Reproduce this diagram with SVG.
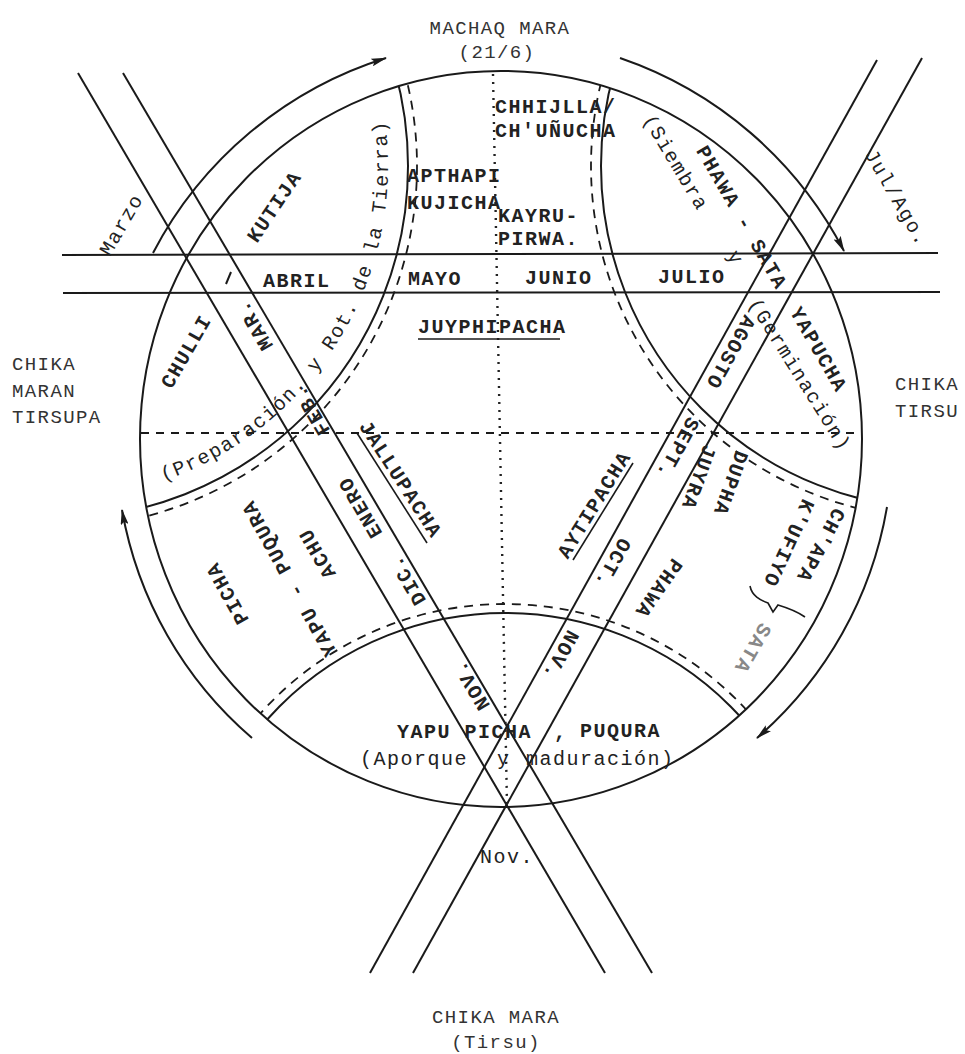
<svg xmlns="http://www.w3.org/2000/svg" width="965" height="1054" viewBox="0 0 965 1054">
<style>
.ln{stroke:#1a1a1a;stroke-width:2;fill:none}
.dsh{stroke:#1a1a1a;stroke-width:1.8;fill:none;stroke-dasharray:9 7}
.dot{stroke:#222;stroke-width:2.4;fill:none;stroke-dasharray:2 6}
.t{font-family:"Liberation Mono",monospace;font-size:20px;letter-spacing:1.5px;fill:#222;font-weight:bold}
.n{font-family:"Liberation Mono",monospace;font-size:20px;letter-spacing:1.5px;fill:#222}
.h{font-family:"Liberation Mono",monospace;font-size:19px;letter-spacing:1.4px;fill:#333}
.c{text-anchor:middle;dominant-baseline:central}
.faint{fill:#888}
</style>
<defs>
<clipPath id="inside"><ellipse cx="501" cy="439" rx="361" ry="368"/></clipPath>
<marker id="ah" viewBox="0 0 16 8" refX="15" refY="4" markerWidth="16" markerHeight="8" markerUnits="userSpaceOnUse" orient="auto"><path d="M0,0 L16,4 L0,8 L3,4 z" fill="#1a1a1a"/></marker>
<path id="arcL" d="M163.4,480.9 A333,333 0 0 0 381.9,102.5" fill="none"/>
</defs>
<rect width="965" height="1054" fill="#fff"/>
<g id="connectors">
<ellipse class="ln" cx="501" cy="439" rx="361" ry="368"/>
<g clip-path="url(#inside)">
<circle class="ln" cx="55" cy="166" r="353"/>
<circle class="dsh" cx="55" cy="166" r="362"/>
<circle class="ln" cx="944" cy="166" r="343"/>
<circle class="dsh" cx="944" cy="166" r="353"/>
<circle class="ln" cx="505" cy="932" r="319"/>
<circle class="dsh" cx="505" cy="932" r="328"/>
</g>
<line class="ln" x1="62" y1="255" x2="938" y2="253"/>
<line class="ln" x1="63" y1="293" x2="940" y2="292"/>
<line class="ln" x1="78" y1="73" x2="605" y2="973"/>
<line class="ln" x1="123" y1="73" x2="652" y2="973"/>
<line class="ln" x1="877" y1="60" x2="370" y2="973"/>
<line class="ln" x1="922" y1="58" x2="413" y2="973"/>
<line class="dot" x1="493" y1="74" x2="507" y2="805"/>
<line class="dsh" x1="141" y1="433" x2="862" y2="433" style="stroke-dasharray:8 7"/>
<line class="ln" x1="226" y1="284" x2="231" y2="272"/>
<path class="ln" d="M153,253 A397,397 0 0 1 386,58" marker-end="url(#ah)"/>
<path class="ln" d="M620,58 A397,397 0 0 1 844,251" marker-end="url(#ah)"/>
<path class="ln" d="M887,507 A393,393 0 0 1 757,738" marker-end="url(#ah)"/>
<path class="ln" d="M252,738 A390,390 0 0 1 122,510" marker-end="url(#ah)"/>
<line class="ln" x1="418" y1="339" x2="560" y2="339" style="stroke-width:1.6"/>
<line class="ln" x1="357" y1="433" x2="427" y2="543" style="stroke-width:1.6"/>
<line class="ln" x1="573" y1="560" x2="633" y2="463" style="stroke-width:1.6"/>
<path class="ln" d="M750,586 C752,596 760,600 768,603 L773,612 L778,605 C788,608 798,612 805,617" style="stroke-width:1.6"/>
</g>
<g id="outer-labels">
<text class="h" x="500" y="34" text-anchor="middle">MACHAQ MARA</text>
<text class="h" x="497" y="58" text-anchor="middle">(21/6)</text>
<text class="h" x="496" y="1023" text-anchor="middle">CHIKA MARA</text>
<text class="h" x="496" y="1048" text-anchor="middle">(Tirsu)</text>
<text class="h" x="12" y="370">CHIKA</text>
<text class="h" x="12" y="397">MARAN</text>
<text class="h" x="12" y="423">TIRSUPA</text>
<text class="h" x="895" y="390">CHIKA</text>
<text class="h" x="895" y="417">TIRSU</text>
<text class="n c" transform="translate(122,225) rotate(-60)">Marzo</text>
<text class="n c" transform="translate(896,198) rotate(60)">Jul/Ago.</text>
</g>
<g id="months">
<text class="t" x="263" y="287">ABRIL</text>
<text class="t" x="408" y="285">MAYO</text>
<text class="t" x="525" y="284">JUNIO</text>
<text class="t" x="658" y="283">JULIO</text>
</g>
<g id="top-regions">
<text class="t" x="495" y="113">CHHIJLLA/</text>
<text class="t" x="495" y="137">CH'UÑUCHA</text>
<text class="t" x="407" y="182">APTHAPI</text>
<text class="t" x="407" y="209">KUJICHA</text>
<text class="t" x="498" y="222">KAYRU-</text>
<text class="t" x="498" y="245">PIRWA.</text>
<text class="t" x="418" y="333">JUYPHIPACHA</text>
<text class="t c" transform="translate(275,207) rotate(-56)">KUTIJA</text>
<text class="t c" transform="translate(187,352) rotate(-60)">CHULLI</text>
<text class="n"><textPath href="#arcL">(Preparación. y Rot.</textPath></text>
<text class="n"><textPath href="#arcL" startOffset="283.5">de la Tierra)</textPath></text>
<text class="n c" transform="translate(675,163) rotate(59)">(Siembra</text>
<text class="t c" transform="translate(741,218) rotate(60)">PHAWA - SATA</text>
<text class="n c" transform="translate(735,258) rotate(60)">y</text>
<text class="n c" transform="translate(799,375) rotate(58)">(Germinación)</text>
<text class="t c" transform="translate(818,350) rotate(60)">YAPUCHA</text>
</g>
<g id="band-a">
<text class="t c" transform="translate(255,325) rotate(-120.4)">MAR.</text>
<text class="t c" transform="translate(312,410) rotate(-120.4)">FEB.</text>
<text class="t c" transform="translate(361,507) rotate(-120.4)">ENERO</text>
<text class="t c" transform="translate(408,580) rotate(-120.4)">DIC.</text>
<text class="t c" transform="translate(472,685) rotate(-120.4)">NOV.</text>
</g>
<g id="band-b">
<text class="t c" transform="translate(730,352) rotate(119)">AGOSTO</text>
<text class="t c" transform="translate(677,448) rotate(119)">SEPT.</text>
<text class="t c" transform="translate(612,563) rotate(119)">OCT.</text>
<text class="t c" transform="translate(560,655) rotate(119)">NOV.</text>
</g>
<g id="middle">
<text class="t c" transform="translate(400,480) rotate(57)">JALLUPACHA</text>
<text class="t c" transform="translate(595,505) rotate(-58.4)">AYTIPACHA</text>
</g>
<g id="lower-right">
<text class="t c" transform="translate(730,483) rotate(110)">DUPHA</text>
<text class="t c" transform="translate(698,477) rotate(110)">JUYRA</text>
<text class="t c" transform="translate(658,588) rotate(125)">PHAWA</text>
<text class="t c" transform="translate(820,545) rotate(118)">CH'APA</text>
<text class="t c" transform="translate(788,543) rotate(115)">K'UFIYO</text>
<text class="t c faint" transform="translate(752,648) rotate(120)">SATA</text>
</g>
<g id="lower-left">
<text class="t c" transform="translate(228,593) rotate(-119)">PICHA</text>
<text class="t c" transform="translate(290,578) rotate(-119)">YAPU - PUQURA</text>
<text class="t c" transform="translate(318,553) rotate(-120)">ACHU</text>
</g>
<g id="bottom">
<text class="t" x="397" y="738">YAPU PICHA</text>
<text class="t" x="554" y="738">,</text>
<text class="t" x="580" y="737">PUQURA</text>
<text class="n" x="360" y="765">(Aporque</text>
<text class="n" x="497" y="765">y</text>
<text class="n" x="526" y="765">maduración)</text>
<text class="n" x="480" y="863">Nov.</text>
</g>
</svg>
